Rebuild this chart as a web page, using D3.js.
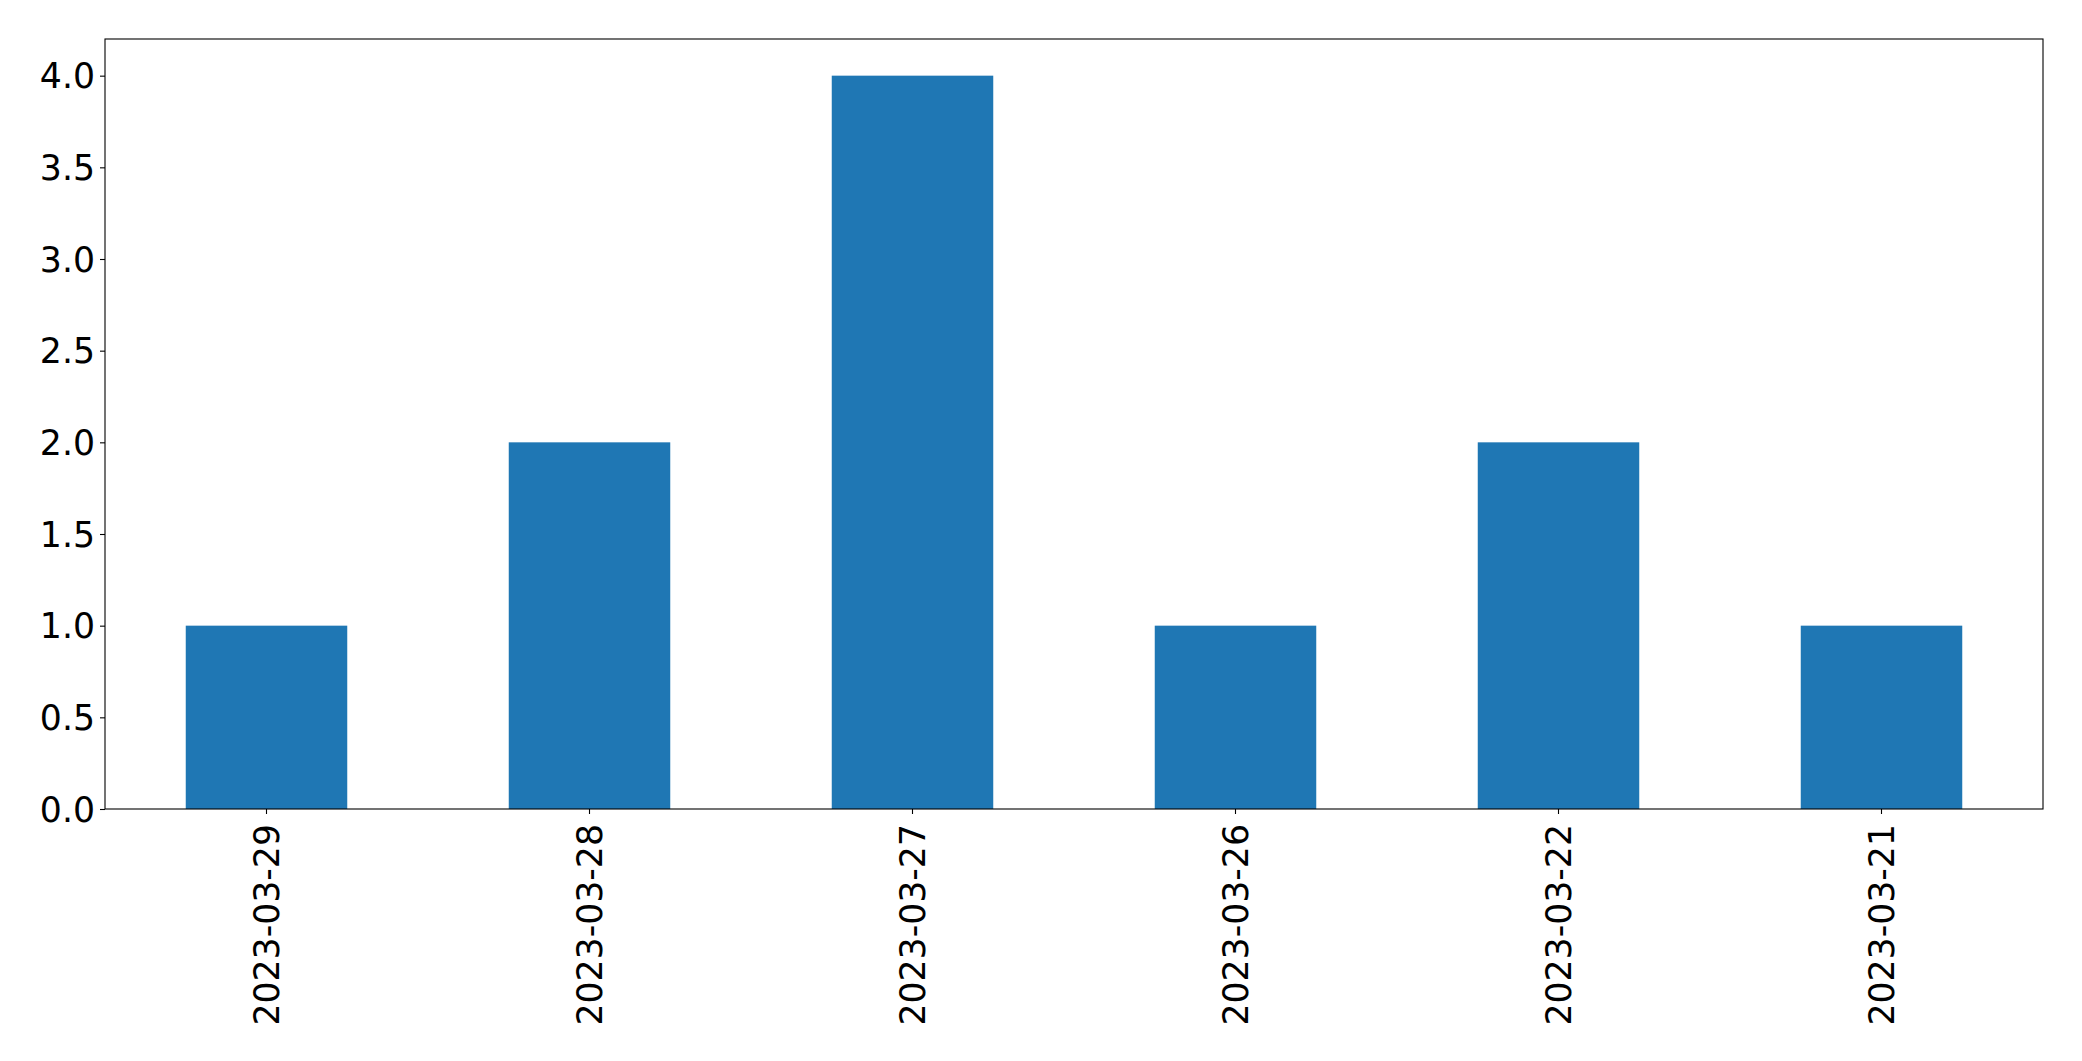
<!DOCTYPE html>
<html>
<head>
<meta charset="utf-8">
<script src="https://cdn.jsdelivr.net/npm/d3@7"></script>
<style>
  html, body { margin: 0; padding: 0; background: #fff; }
  svg { display: block; }
  text { font-family: "DejaVu Sans", sans-serif; fill: #000; }
</style>
</head>
<body>
<script>
const categories = ["2023-03-29", "2023-03-28", "2023-03-27", "2023-03-26", "2023-03-22", "2023-03-21"];
const values = [1, 2, 4, 1, 2, 1];
const yTicks = [0, 0.5, 1.0, 1.5, 2.0, 2.5, 3.0, 3.5, 4.0];

const W = 2082, H = 1061;
const m = { left: 105, right: 2043, top: 39, bottom: 809 };

const svg = d3.select("body").append("svg").attr("width", W).attr("height", H);

const x = d3.scaleBand().domain(categories).range([m.left, m.right]).paddingInner(0.5).paddingOuter(0.25);
const y = d3.scaleLinear().domain([0, 4.2]).range([m.bottom, m.top]);

svg.append("g").selectAll("rect").data(values).join("rect")
  .attr("x", (d, i) => x(categories[i]))
  .attr("width", x.bandwidth())
  .attr("y", d => y(d))
  .attr("height", d => y(0) - y(d))
  .attr("fill", "#1f77b4");

// frame
svg.append("rect")
  .attr("x", m.left).attr("y", m.top)
  .attr("width", m.right - m.left).attr("height", m.bottom - m.top)
  .attr("fill", "none").attr("stroke", "#000").attr("stroke-width", 1.1);

const yAxis = svg.append("g").attr("transform", `translate(${m.left},0)`)
  .call(d3.axisLeft(y).tickValues(yTicks).tickFormat(d3.format(".1f")).tickSize(5).tickPadding(5));
yAxis.select(".domain").remove();
yAxis.selectAll("line").attr("stroke", "#000").attr("stroke-width", 1.1);
yAxis.selectAll("text").attr("font-size", 34.7).attr("dy", "0.35em").style("font-family", "DejaVu Sans");

const xAxis = svg.append("g").attr("transform", `translate(0,${m.bottom})`)
  .call(d3.axisBottom(x).tickSize(5).tickPadding(5));
xAxis.select(".domain").remove();
xAxis.selectAll("line").attr("stroke", "#000").attr("stroke-width", 1.1);
xAxis.selectAll("text")
  .attr("font-size", 34.7)
  .style("font-family", "DejaVu Sans")
  .attr("text-anchor", "end")
  .attr("transform", "rotate(-90)")
  .attr("x", -15)
  .attr("y", 0)
  .attr("dy", "0.35em");
</script>
</body>
</html>
